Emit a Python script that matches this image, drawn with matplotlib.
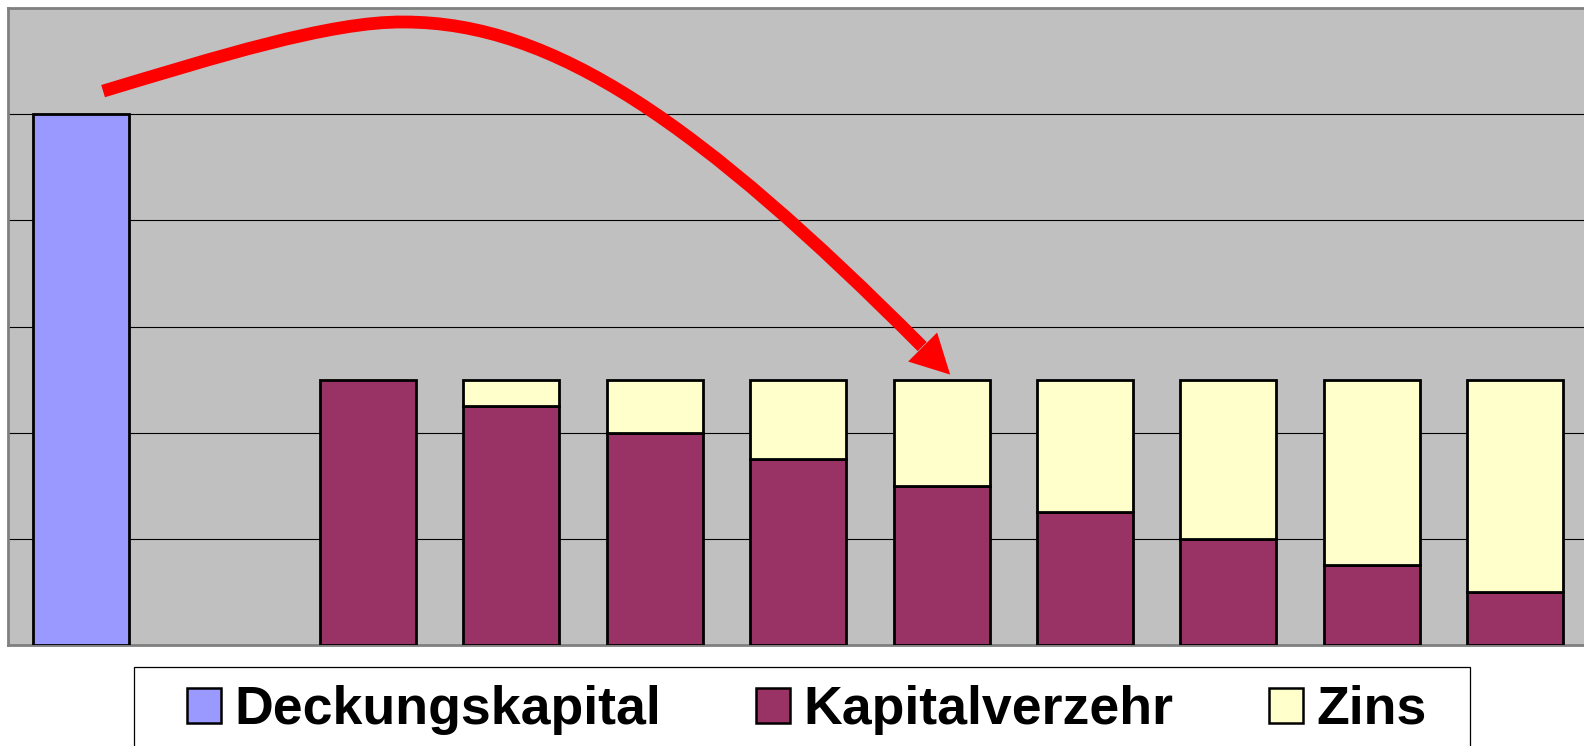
import matplotlib
matplotlib.use("Agg")
import matplotlib.pyplot as plt
from matplotlib.patches import Patch, Rectangle, PathPatch, Polygon
from matplotlib.path import Path

# chart data
deckung_x = [0]
deckungskapital = [5.0]
kap_x = [2, 3, 4, 5, 6, 7, 8, 9, 10]
kapitalverzehr = [2.5, 2.25, 2.0, 1.75, 1.5, 1.25, 1.0, 0.75, 0.5]
zins = [0.0, 0.25, 0.5, 0.75, 1.0, 1.25, 1.5, 1.75, 2.0]
labels = ["Deckungskapital", "Kapitalverzehr", "Zins"]

BLUE = "#9999FF"
MAROON = "#993366"
CREAM = "#FFFFCC"
BG = "#C0C0C0"
WIDTH = 0.67

plt.rcParams["font.family"] = ["Liberation Sans", "DejaVu Sans"]

fig = plt.figure(figsize=(15.84, 7.46), dpi=100)
ax = fig.add_axes([8 / 1584, 1 - 645 / 746, 1576 / 1584, 637 / 746])
ax.set_facecolor(BG)

ax.bar(deckung_x, deckungskapital, width=WIDTH, color=BLUE,
       edgecolor="black", linewidth=2, zorder=3)
ax.bar(kap_x, kapitalverzehr, width=WIDTH, color=MAROON,
       edgecolor="black", linewidth=2, zorder=3)

# zins stacked on top, skip empty segments
zx = [x for x, z in zip(kap_x, zins) if z > 0]
zb = [k for k, z in zip(kapitalverzehr, zins) if z > 0]
zh = [z for z in zins if z > 0]
ax.bar(zx, zh, bottom=zb, width=WIDTH, color=CREAM,
       edgecolor="black", linewidth=2, zorder=3)

ax.set_xlim(-0.51, 10.48)
ax.set_ylim(0, 6)
ax.set_yticks([1, 2, 3, 4, 5])
ax.set_xticks([])
ax.yaxis.grid(True, color="black", linewidth=0.8)
ax.set_axisbelow(True)
ax.tick_params(left=False, labelleft=False)
for side in ["left", "top", "bottom"]:
    ax.spines[side].set_color("#808080")
    ax.spines[side].set_linewidth(2)
ax.spines["right"].set_visible(False)

# red curved arrow from the capital bar to the 6th payout bar
curve = Path(
    [(0.153, 5.217), (0.920, 5.528), (1.736, 5.877), (2.252, 5.868),
     (3.298, 5.868), (4.317, 4.906), (5.865, 2.811)],
    [Path.MOVETO, Path.CURVE4, Path.CURVE4, Path.CURVE4,
     Path.CURVE4, Path.CURVE4, Path.CURVE4],
)
ax.add_patch(PathPatch(curve, fill=False, edgecolor="red", linewidth=9.2,
                       capstyle="butt", zorder=5))
ax.add_patch(Polygon([(6.06, 2.547), (5.767, 2.670), (5.969, 2.943)],
                     closed=True, facecolor="red", edgecolor="none", zorder=5))

# legend frame runs off the bottom of the picture
fig.add_artist(Rectangle((134 / 1584, -0.1), 1336 / 1584, (746 - 667) / 746 + 0.1,
                         transform=fig.transFigure, facecolor="white",
                         edgecolor="black", linewidth=0.9))

handles = [Patch(facecolor=c, edgecolor="black", linewidth=1.8)
           for c in [BLUE, MAROON, CREAM]]
fig.legend(handles, labels, loc="center left",
           bbox_to_anchor=(160 / 1584, 1 - 710 / 746), ncol=3, frameon=False,
           prop={"size": 38.6, "weight": "bold"}, borderpad=0,
           handlelength=0.63, handleheight=0.63, handletextpad=0.25,
           columnspacing=1.78)

fig.savefig("out.png", dpi=100)
